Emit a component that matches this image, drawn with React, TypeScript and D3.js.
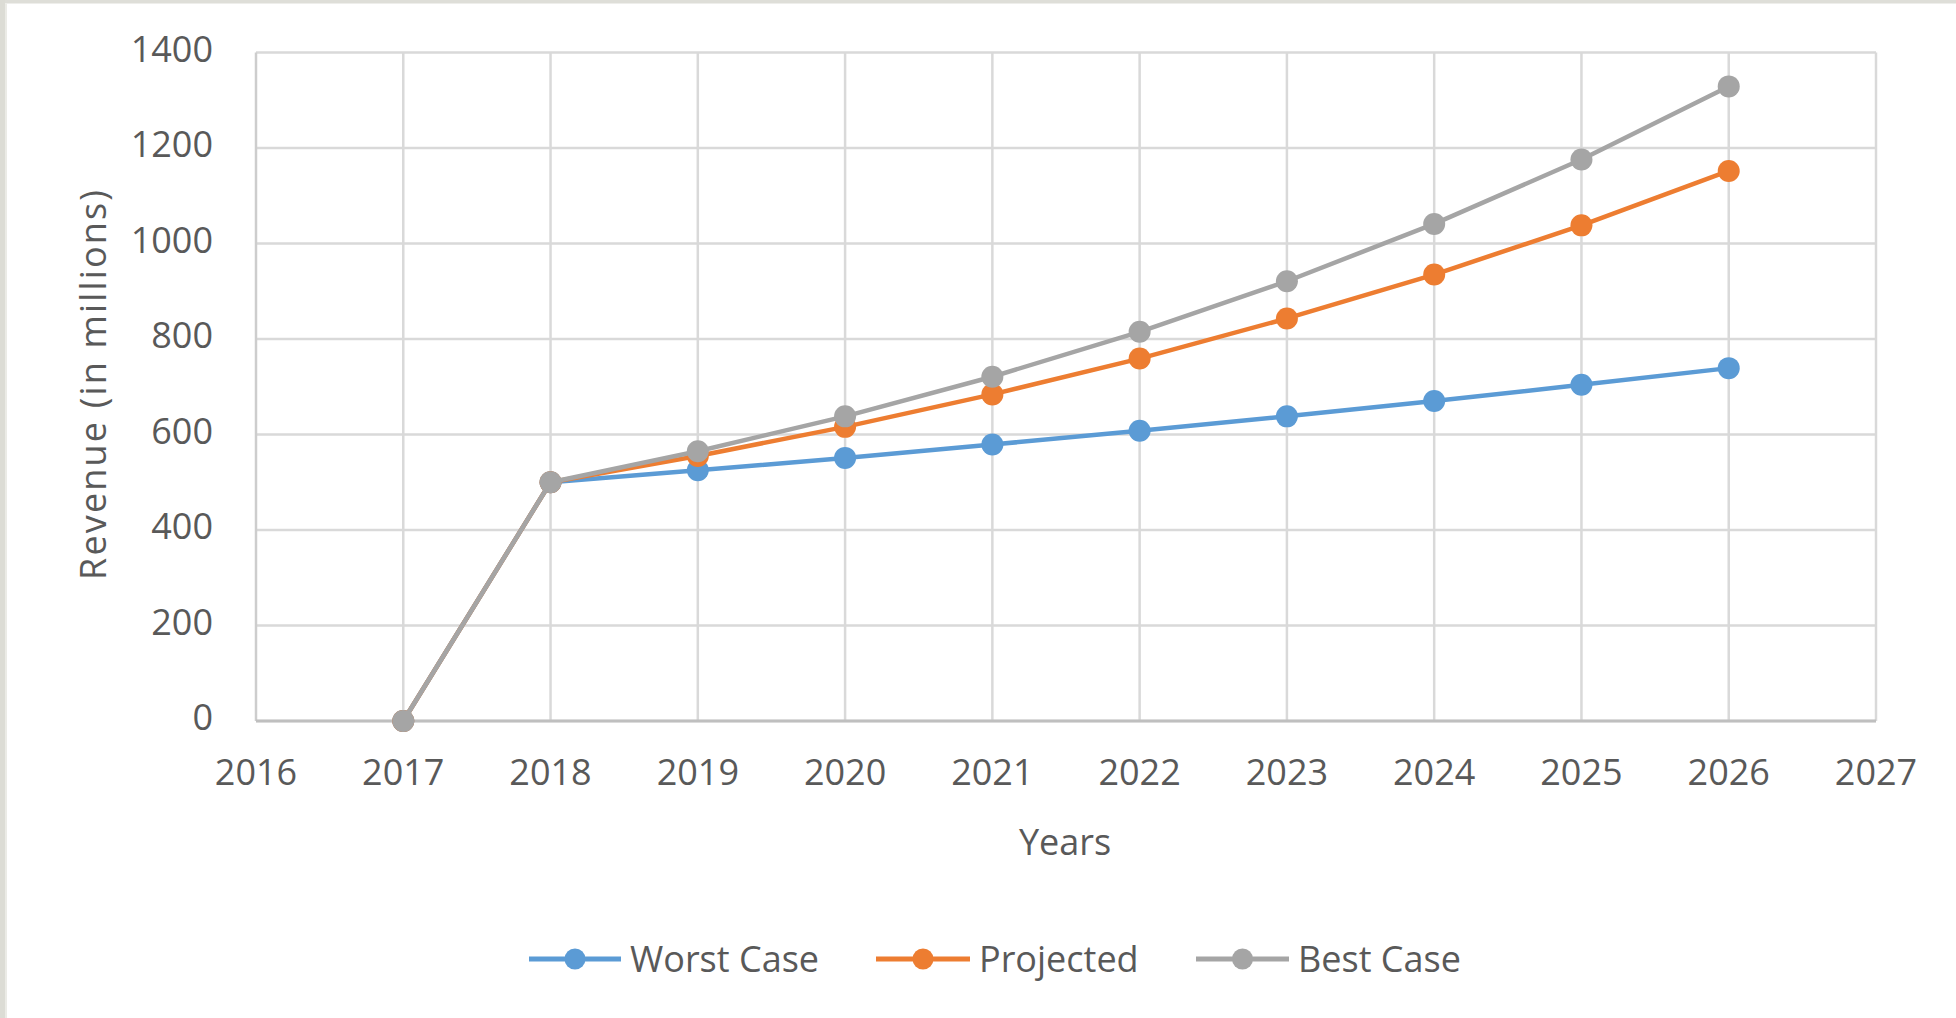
import React from "react";
import * as d3 from "d3";

const years = [2017, 2018, 2019, 2020, 2021, 2022, 2023, 2024, 2025, 2026];
const worstCase = [0, 500, 525, 551, 579, 608, 638, 670, 704, 739];
const projected = [0, 500, 555, 616, 684, 759, 843, 935, 1038, 1152];
const bestCase = [0, 500, 565, 638, 721, 815, 921, 1041, 1176, 1329];
const xTicks = [2016, 2017, 2018, 2019, 2020, 2021, 2022, 2023, 2024, 2025, 2026, 2027];
const yTicks = [0, 200, 400, 600, 800, 1000, 1200, 1400];
const seriesNames = ["Worst Case", "Projected", "Best Case"];
const seriesColors = ["#5B9BD5", "#ED7D31", "#A5A5A5"];

const W = 1956;
const H = 1018;
const FONT = "'Open Sans', 'Liberation Sans', sans-serif";
const TEXT = "#595959";

export default function App() {
  const x = d3.scaleLinear().domain([2016, 2027]).range([256, 1876]);
  const y = d3.scaleLinear().domain([0, 1400]).range([721, 52.5]);
  const seriesData = [worstCase, projected, bestCase];
  const line = d3
    .line<[number, number]>()
    .x((d) => x(d[0]))
    .y((d) => y(d[1]));

  const legendItems = [
    { lineX0: 529, lineX1: 621, textX: 630 },
    { lineX0: 876, lineX1: 970, textX: 979 },
    { lineX0: 1196, lineX1: 1289, textX: 1298 },
  ];

  return (
    <svg
      width={W}
      height={H}
      style={{ position: "absolute", left: 0, top: 0, background: "#fff" }}
      fontFamily={FONT}
    >
      <rect x={0} y={0} width={W} height={H} fill="#ffffff" />
      <rect x={0} y={0} width={W} height={3.5} fill="#DEDED8" />
      <rect x={0} y={0} width={5} height={H} fill="#DCDCD5" />
      <rect x={5} y={3.5} width={2} height={H} fill="#EBEBE6" />

      {/* gridlines */}
      {yTicks.map((t) => (
        <line
          key={"gy" + t}
          x1={x(2016)}
          x2={x(2027)}
          y1={y(t)}
          y2={y(t)}
          stroke="#D9D9D9"
          strokeWidth={2.5}
        />
      ))}
      {xTicks.map((t) => (
        <line
          key={"gx" + t}
          x1={x(t)}
          x2={x(t)}
          y1={y(1400)}
          y2={y(0)}
          stroke={t === 2016 ? "#CDCDCD" : "#D9D9D9"}
          strokeWidth={2.5}
        />
      ))}
      <line x1={x(2016)} x2={x(2027)} y1={y(0)} y2={y(0)} stroke="#BFBFBF" strokeWidth={3} />

      {/* y tick labels */}
      {yTicks.map((t) => (
        <text
          key={"ty" + t}
          x={213}
          y={y(t) + 9}
          textAnchor="end"
          fontSize={36}
          fill={TEXT}
        >
          {t}
        </text>
      ))}
      {/* x tick labels */}
      {xTicks.map((t) => (
        <text key={"tx" + t} x={x(t)} y={785} textAnchor="middle" fontSize={36} fill={TEXT}>
          {t}
        </text>
      ))}

      {/* axis titles */}
      <text x={1065} y={855} textAnchor="middle" fontSize={36} fill={TEXT}>
        Years
      </text>
      <text
        transform="translate(106,385) rotate(-90)"
        textAnchor="middle"
        fontSize={36}
        fill={TEXT}
        textLength={390}
        lengthAdjust="spacing"
      >
        Revenue (in millions)
      </text>

      {/* series */}
      {seriesData.map((vals, i) => {
        const pts = years.map((yr, j) => [yr, vals[j]] as [number, number]);
        return (
          <g key={"s" + i}>
            <path
              d={line(pts) || ""}
              fill="none"
              stroke={seriesColors[i]}
              strokeWidth={4.5}
              strokeLinejoin="round"
              strokeLinecap="round"
            />
            {pts.map((p, j) => (
              <circle key={j} cx={x(p[0])} cy={y(p[1])} r={11} fill={seriesColors[i]} />
            ))}
          </g>
        );
      })}

      {/* legend */}
      {legendItems.map((it, i) => (
        <g key={"l" + i}>
          <line
            x1={it.lineX0}
            x2={it.lineX1}
            y1={959}
            y2={959}
            stroke={seriesColors[i]}
            strokeWidth={5}
          />
          <circle cx={(it.lineX0 + it.lineX1) / 2} cy={959} r={10.5} fill={seriesColors[i]} />
          <text x={it.textX} y={972} fontSize={36} fill={TEXT}>
            {seriesNames[i]}
          </text>
        </g>
      ))}
    </svg>
  );
}
